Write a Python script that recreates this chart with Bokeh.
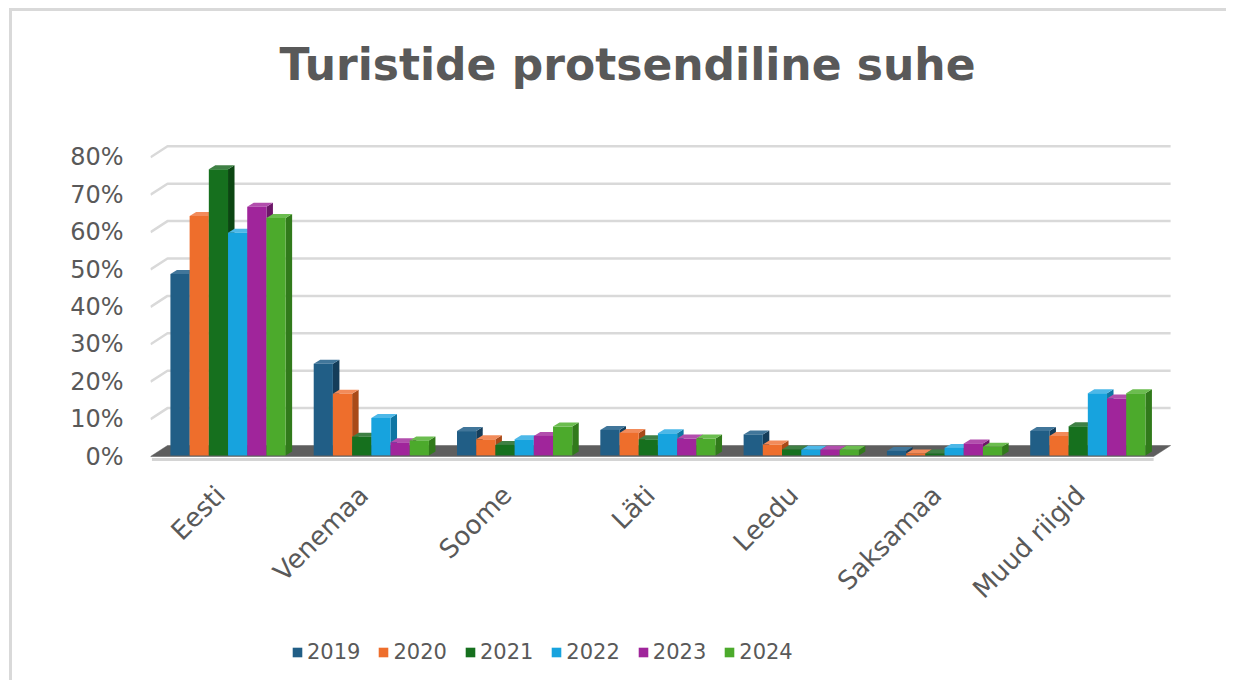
import math
from bokeh.plotting import figure
from bokeh.models import FixedTicker, PrintfTickFormatter, Label, Legend, LegendItem, Range1d
from bokeh.core.properties import value
from bokeh.embed import file_html
from bokeh.resources import INLINE

# ---------------- data ----------------
categories = ["Eesti", "Venemaa", "Soome", "Läti", "Leedu", "Saksamaa", "Muud riigid"]
years = ["2019", "2020", "2021", "2022", "2023", "2024"]
values_2019 = [48.5, 24.5, 6.5, 6.8, 5.6, 1.2, 6.5]
values_2020 = [64.0, 16.5, 4.3, 6.0, 2.9, 0.5, 5.2]
values_2021 = [76.5, 5.0, 2.8, 4.3, 1.6, 0.5, 7.8]
values_2022 = [59.5, 10.0, 4.3, 5.9, 1.5, 2.0, 16.6]
values_2023 = [66.5, 3.5, 5.2, 4.5, 1.5, 3.2, 15.2]
values_2024 = [63.5, 4.0, 7.7, 4.5, 1.5, 2.3, 16.6]
series = [values_2019, values_2020, values_2021, values_2022, values_2023, values_2024]
y_ticks = [0, 10, 20, 30, 40, 50, 60, 70, 80]
title_text = "Turistide protsendiline suhe"

# ---------------- styles ----------------
front_colors = ["#215E86", "#EE6E2C", "#16701E", "#17A3DE", "#A0259B", "#4CAA2C"]
side_colors = ["#143D5A", "#A94A18", "#0C4612", "#0F76A3", "#6C1668", "#317A1B"]
top_colors = ["#41769A", "#F28B5A", "#3F8045", "#4DB8E8", "#B24EAD", "#6BBD4F"]
TEXT = "#595959"
FONT = "DejaVu Sans"

PX_CAT = 143.3
PX_PCT = 3.74
FRAME_W = 1025
FRAME_H = 680
ZERO_PX = 456          # pixel row of the 0% front line
SHIFT_X = 0.041        # bars sit slightly back from the floor's front edge
SHIFT_Y = 0.3
FLOOR_L = -0.5 - SHIFT_X
X_START = FLOOR_L
X_END = X_START + FRAME_W / PX_CAT
Y_START = -(FRAME_H - ZERO_PX) / PX_PCT
Y_END = ZERO_PX / PX_PCT
DEPTH_X = 17 / PX_CAT
DEPTH_Y = 11 / PX_PCT
BAR_W = 0.134
BAR_DX = 6.5 / PX_CAT
BAR_DY = 4 / PX_PCT
LABEL_DX = -0.053
LABEL_Y = -(490 - ZERO_PX) / PX_PCT
NCAT = len(categories)

p = figure(frame_width=FRAME_W, frame_height=FRAME_H,
           x_range=Range1d(X_START, X_END), y_range=Range1d(Y_START, Y_END),
           x_axis_location=None,
           output_backend="svg", toolbar_location=None,
           min_border_left=150, min_border_right=51, min_border_top=0, min_border_bottom=0)
p.border_fill_color = None
p.background_fill_color = None
p.outline_line_color = None
p.xgrid.visible = False
p.ygrid.visible = False
p.styles = {"background": "linear-gradient(#D9D9D9,#D9D9D9) 9px 8px / 1400px 3px no-repeat, "
                          "linear-gradient(#D9D9D9,#D9D9D9) 9px 8px / 3px 1400px no-repeat, white"}

# value axis
p.yaxis.ticker = FixedTicker(ticks=y_ticks)
p.yaxis.formatter = PrintfTickFormatter(format="%d%%")
p.yaxis.axis_line_color = None
p.yaxis.major_tick_line_color = None
p.yaxis.minor_tick_line_color = None
p.yaxis.major_tick_out = 0
p.yaxis.major_tick_in = 0
p.yaxis.major_label_text_font = FONT
p.yaxis.major_label_text_color = TEXT
p.yaxis.major_label_text_font_size = "24px"
p.yaxis.major_label_standoff = 27

# back wall gridlines + left wall diagonals
gx, gy = [], []
for v in y_ticks[1:]:
    gx.append([FLOOR_L, FLOOR_L + DEPTH_X, FLOOR_L + NCAT + DEPTH_X])
    gy.append([v, v + DEPTH_Y, v + DEPTH_Y])
p.multi_line(gx, gy, line_color="#D9D9D9", line_width=2.5)

# floor
p.line([FLOOR_L + 0.01, FLOOR_L + NCAT], [-0.8, -0.8], line_color="#D4D4D4", line_width=3)
p.patch([FLOOR_L, FLOOR_L + NCAT, FLOOR_L + NCAT + DEPTH_X, FLOOR_L + DEPTH_X],
        [0, 0, DEPTH_Y, DEPTH_Y], fill_color="#5E5E5E", line_color="#5E5E5E", line_width=0.5)

# bars (pseudo 3D)
front_renderers = []
for j, vals in enumerate(series):
    lefts = [i - 3 * BAR_W + j * BAR_W for i in range(NCAT)]
    rights = [l + BAR_W for l in lefts]
    tops = [v + SHIFT_Y for v in vals]
    bottoms = [SHIFT_Y] * NCAT
    side_xs = [[r, r + BAR_DX, r + BAR_DX, r] for r in rights]
    side_ys = [[b, b + BAR_DY, t + BAR_DY, t] for b, t in zip(bottoms, tops)]
    top_xs = [[l, r, r + BAR_DX, l + BAR_DX] for l, r in zip(lefts, rights)]
    top_ys = [[t, t, t + BAR_DY, t + BAR_DY] for t in tops]
    p.patches(side_xs, side_ys, fill_color=side_colors[j], line_color=None)
    p.patches(top_xs, top_ys, fill_color=top_colors[j], line_color=None)
    r = p.quad(left=lefts, right=rights, bottom=bottoms, top=tops,
               fill_color=front_colors[j], line_color=None)
    front_renderers.append(r)

# category labels (rotated 45 degrees under each group)
p.text(x=[i + LABEL_DX for i in range(NCAT)], y=[LABEL_Y] * NCAT, text=categories,
       angle=math.pi / 4, text_align="right", text_baseline="middle",
       text_font=value(FONT), text_font_size="26px", text_color=TEXT)

# title
p.add_layout(Label(x=FLOOR_L + (627 - 150) / PX_CAT, y=(ZERO_PX - 64) / PX_PCT, text=title_text,
                   text_align="center", text_baseline="alphabetic", text_font=FONT,
                   text_font_style="bold", text_font_size="44px", text_color=TEXT))

# legend
legend = Legend(items=[LegendItem(label=y, renderers=[front_renderers[j]]) for j, y in enumerate(years)],
                orientation="horizontal", location=(141, 16), padding=0, margin=0,
                border_line_color=None, background_fill_alpha=0,
                glyph_width=12, glyph_height=12, label_standoff=4, spacing=17,
                label_text_font=FONT, label_text_font_size="21px", label_text_color=TEXT)
p.add_layout(legend)

open("out.html", "w").write(file_html(p, INLINE))
